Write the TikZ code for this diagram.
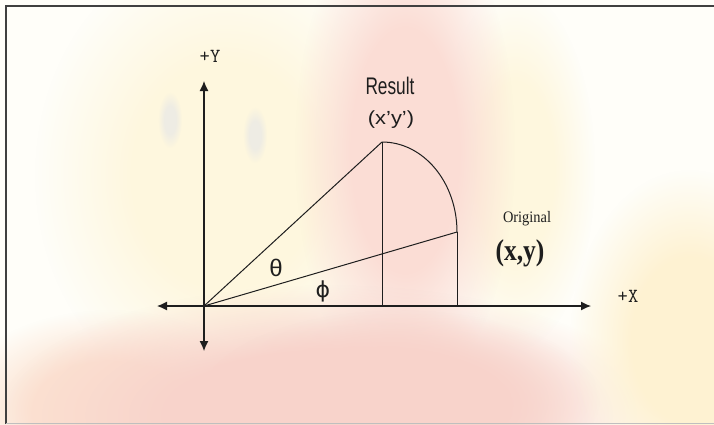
\documentclass[tikz,border=0pt]{standalone}
\usepackage{fontspec}
\setmainfont{Liberation Sans}
\newfontfamily\serifnt{Liberation Serif}
\newfontfamily\grkfnt{DejaVu Sans}
\usetikzlibrary{arrows.meta,fadings}

% Sfumatura morbida per le macchie di sfondo
\pgfdeclareradialshading{sfumaBlob}{\pgfpointorigin}{%
  color(0bp)=(pgftransparent!0); color(12bp)=(pgftransparent!0);
  color(25bp)=(pgftransparent!100); color(50bp)=(pgftransparent!100)}
\pgfdeclarefading{blobMorbida}{\pgfuseshading{sfumaBlob}}

\begin{document}
\begin{tikzpicture}[x=1pt,y=-1pt,
  asse/.style={draw=lineDark, line width=1.2pt,
    {Latex[length=10pt,width=9pt]}-{Latex[length=10pt,width=9pt]}},
  linea/.style={draw=lineDark, line width=1pt},
  etich/.style={inner sep=0pt, text=lineDark},
  macchia/.style={path fading=blobMorbida}]

% Colori
\definecolor{bgBase}{HTML}{FFFEF9}
\definecolor{bgCrema}{HTML}{FEF7DE}
\definecolor{bgRosa}{HTML}{FBDDD5}
\definecolor{bgRosaSc}{HTML}{F8D3CB}
\definecolor{bgPesca}{HTML}{FCE3D2}
\definecolor{bgGiallo}{HTML}{FEF2D2}
\definecolor{bgGrigio}{HTML}{EEECE4}
\definecolor{lineDark}{HTML}{1E1E1E}

\useasboundingbox (0,0) rectangle (714,424);
\fill[bgBase] (0,0) rectangle (714,424);

% Sfondo sfumato
\fill[bgCrema, macchia] (225,175) ellipse [x radius=190, y radius=230];
\fill[bgCrema, macchia] (515,170) ellipse [x radius=80, y radius=180];
\fill[bgRosa, macchia] (405,150) ellipse [x radius=110, y radius=250];
\fill[bgPesca, macchia] (110,410) ellipse [x radius=160, y radius=100];
\fill[bgRosaSc, macchia] (330,415) ellipse [x radius=330, y radius=130];
\fill[bgRosaSc, macchia] (400,400) ellipse [x radius=200, y radius=90];
\fill[bgGiallo, macchia] (690,340) ellipse [x radius=120, y radius=170];
\fill[bgGrigio, macchia] (170,120) ellipse [x radius=12, y radius=28];
\fill[bgGrigio, macchia] (255,135) ellipse [x radius=12, y radius=28];

% Cornice
\draw[draw=lineDark!85, line width=2pt] (714,6) -- (6,6) -- (6,424);
\draw[draw=black!25, line width=1pt] (6,423.5) -- (714,423.5);

% Punti
\coordinate (O) at (204,306);
\coordinate (res) at (382,142);
\coordinate (orig) at (457,232);
\coordinate (resX) at (382,306);
\coordinate (origX) at (457,306);
\coordinate (xNeg) at (157,306);
\coordinate (xPos) at (591,306);
\coordinate (yPos) at (204,81);
\coordinate (yNeg) at (204,351);

% Assi
\draw[asse] (xNeg) -- (xPos);
\draw[asse] (yNeg) -- (yPos);

% Vettori e proiezioni
\draw[linea] (O) -- (res);
\draw[linea] (O) -- (orig);
\draw[linea] (res) -- (resX);
\draw[linea] (orig) -- (origX);
\draw[linea] (res) arc[start angle=90, end angle=0, x radius=75pt, y radius=90pt];

% Etichette
\node[etich] (lblY) at (210,56) {\fontsize{20}{20}\ttfamily +Y};
\node[etich] (lblX) at (628,296) {\fontsize{20}{20}\ttfamily +X};
\node[etich] (lblRes) at (390,86) {\scalebox{0.72}[1]{\fontsize{24}{24}\selectfont Result}};
\node[etich] (lblResP) at (391,120) {\scalebox{1.15}[1]{\fontsize{19}{19}\selectfont (x'y')}};
\node[etich] (lblOrig) at (527,219) {\scalebox{0.9}[1]{\fontsize{16}{16}\serifnt Original}};
\node[etich] (lblOrigP) at (520,253) {\scalebox{0.85}[1]{\fontsize{30}{30}\serifnt\bfseries (x,y)}};
\node[etich] (theta) at (276,268) {\fontsize{24}{24}\selectfont θ};
\node[etich] (phi) at (323,291) {\fontsize{22}{22}\grkfnt ϕ};

\end{tikzpicture}
\end{document}
